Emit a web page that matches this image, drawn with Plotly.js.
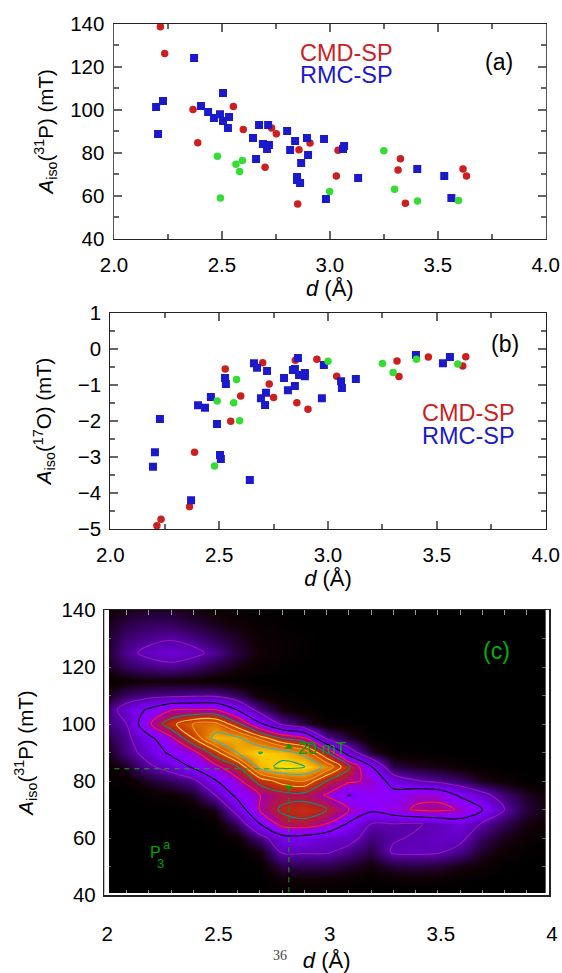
<!DOCTYPE html>
<html><head><meta charset="utf-8">
<script src="https://cdn.plot.ly/plotly-3.0.1.min.js"></script>
<style>html,body{margin:0;padding:0;background:#fff}</style></head>
<body><div id="plot" style="width:562px;height:973px"></div>
<script>
// Panel (a): A_iso(31P)
const aRedD=[2.215,2.235,2.366,2.388,2.553,2.599,2.73,2.752,2.857,2.908,2.70,2.851,3.038,3.03,3.327,3.316,3.35,3.617,3.633];
const aRedA=[138.6,126.2,100.1,84.7,101.5,90.9,91.5,88.9,81.5,84.6,73.3,56.3,81.2,69.3,77.3,72.0,56.6,72.5,69.3];
const aGreenD=[2.479,2.565,2.595,2.582,2.493,2.999,3.25,3.30,3.406,3.596];
const aGreenA=[78.4,74.7,76.5,71.3,59.0,62.1,81.0,63.1,57.6,57.9];
const aBlueD=[2.371,2.195,2.227,2.204,2.505,2.403,2.436,2.463,2.491,2.505,2.533,2.528,2.644,2.672,2.714,2.69,2.718,2.709,2.658,2.802,2.839,2.816,2.894,2.899,2.867,2.848,2.848,2.862,2.973,2.982,3.061,3.066,3.131,3.405,3.53,3.563];
const aBlueA=[124.1,101.3,104.1,88.8,107.8,101.8,99.0,96.2,98.0,94.8,96.7,91.5,86.9,92.9,92.9,84.1,83.7,81.8,77.2,90.2,85.5,81.3,86.9,79.0,75.3,68.8,67.4,66.0,86.4,58.6,81.8,83.2,68.3,72.5,69.3,59.0];
// Panel (b): A_iso(17O)
const bRedD=[2.214,2.233,2.364,2.387,2.528,2.553,2.599,2.70,2.73,2.75,2.85,2.857,2.908,2.949,3.04,3.317,3.326,3.461,3.619,3.633];
const bRedA=[-4.91,-4.73,-4.38,-2.87,-0.56,-2.01,-1.31,-0.39,-0.98,-1.35,-0.32,-1.50,-1.68,-0.29,-0.76,-0.34,-0.77,-0.23,-0.48,-0.22];
const bGreenD=[2.58,2.491,2.567,2.594,2.479,3.0,3.25,3.299,3.406,3.596];
const bGreenA=[-0.85,-1.45,-1.50,-2.00,-3.25,-0.35,-0.41,-0.66,-0.29,-0.42];
const bBlueD=[2.371,2.196,2.205,2.228,2.403,2.435,2.462,2.49,2.504,2.508,2.527,2.531,2.641,2.66,2.674,2.72,2.715,2.692,2.711,2.798,2.816,2.848,2.839,2.848,2.862,2.867,2.894,2.894,2.972,2.981,3.06,3.064,3.128,3.404,3.528,3.56];
const bBlueA=[-4.20,-3.27,-2.87,-1.95,-1.57,-1.64,-1.34,-2.09,-2.95,-3.06,-0.81,-0.98,-3.64,-0.40,-0.53,-0.62,-1.22,-1.37,-1.56,-0.81,-1.15,-1.03,-0.59,-0.56,-0.26,-0.73,-0.67,-0.76,-1.37,-0.45,-0.90,-1.09,-0.84,-0.17,-0.40,-0.23];
const mapD=[2.0,2.1,2.2,2.3,2.4,2.5,2.6,2.7,2.8,2.9,3.0,3.1,3.2,3.3,3.4,3.5,3.6,3.7,3.8,3.9,4.0];
const mapA=[140,135,130,125,120,115,110,105,100,95,90,85,80,75,70,65,60,55,50,45,40];
const mapColumns=[
[.03,.05,.06,.06,.05,.01,.05,.12,.13,.08,.04,.015,0,0,0,0,0,0,0,0,0],
[.06,.10,.14,.17,.12,.03,.13,.26,.2,.17,.15,.07,.02,0,0,0,0,0,0,0,0],
[.07,.12,.17,.23,.15,.04,.16,.37,.48,.31,.25,.18,.07,.02,0,0,0,0,0,0,0],
[.07,.12,.19,.26,.17,.04,.17,.49,.67,.47,.38,.25,.12,.03,0,0,0,0,0,0,0],
[.05,.09,.16,.23,.14,.03,.18,.5,.79,.7,.46,.37,.17,.07,.01,0,0,0,0,0,0],
[.03,.06,.11,.17,.09,.02,.18,.5,.81,.92,.66,.47,.34,.2,.06,.01,0,0,0,0,0],
[.02,.04,.07,.09,.05,.01,.12,.34,.63,.9,.89,.6,.47,.39,.26,.12,.03,0,0,0,0],
[.01,.02,.03,.04,.02,0,.03,.15,.37,.76,.975,.92,.64,.5,.51,.35,.15,.05,.01,0,0],
[0,.01,.02,.02,.01,0,.01,.05,.18,.6,.93,1.0,.74,.56,.62,.55,.3,.21,.1,.03,.01],
[0,0,.01,.01,0,0,0,.02,.09,.52,.84,.98,.78,.56,.65,.57,.3,.21,.1,.03,.01],
[0,0,0,0,0,0,0,0,.02,.18,.6,.85,.6,.49,.6,.5,.25,.21,.1,.03,.005],
[0,0,0,0,0,0,0,0,.01,.08,.27,.62,.52,.345,.5,.33,.24,.16,.07,.02,0],
[0,0,0,0,0,0,0,0,0,.01,.08,.36,.48,.42,.38,.2,.15,.1,.04,.01,0],
[0,0,0,0,0,0,0,0,0,0,.01,.1,.28,.41,.45,.2,.19,.215,.08,.02,0],
[0,0,0,0,0,0,0,0,0,0,.01,.07,.21,.47,.515,.19,.21,.22,.09,.02,0],
[0,0,0,0,0,0,0,0,0,0,0,.05,.17,.47,.53,.22,.23,.21,.08,.02,0],
[0,0,0,0,0,0,0,0,0,0,0,.03,.13,.33,.49,.27,.23,.16,.05,.01,0],
[0,0,0,0,0,0,0,0,0,0,0,.01,.06,.24,.36,.19,.12,.07,.03,0,0],
[0,0,0,0,0,0,0,0,0,0,0,0,.03,.14,.2,.11,.06,.03,.01,0,0],
[0,0,0,0,0,0,0,0,0,0,0,0,.01,.07,.09,.05,.03,.01,0,0,0],
[0,0,0,0,0,0,0,0,0,0,0,0,0,.03,.04,.02,.01,0,0,0,0]];
const contourLevels=[.2,.35,.5,.6,.7,.78,.88,.97];
const contourColors=['#9418b8','#000000','#ff2020','#108888','#ffd040','#f09a20','#40b0c0','#10a080'];
const markerD=[2.83,2.83];
const markerA=[92,77.8];
const guideLevelA=84.3;

const W=562,H=973;
const fx=p=>p/W, fy=p=>1-p/H;
const mapZ=mapA.map((_,r)=>mapColumns.map(c=>c[r]));

const RED='#cc1f1f',BLUE='#1a1acc',GREEN='#33dd33',DKGREEN='#00a000';
function scatterPanel(dR,aR,dB,aB,dG,aG,xa,ya){
  const t=(x,y,sym,col,size)=>({type:'scatter',mode:'markers',x,y,xaxis:xa,yaxis:ya,hoverinfo:'skip',
    marker:{symbol:sym,color:col,size,line:{width:0}},showlegend:false});
  return [t(dR,aR,'circle',RED,7.5),t(dB,aB,'square',BLUE,8),t(dG,aG,'circle',GREEN,7.5)];
}
const traces=[...scatterPanel(aRedD,aRedA,aBlueD,aBlueA,aGreenD,aGreenA,'x','y'),
  ...scatterPanel(bRedD,bRedA,bBlueD,bBlueA,bGreenD,bGreenA,'x2','y2')];
traces.push({type:'heatmap',x:mapD,y:mapA,z:mapZ,xaxis:'x3',yaxis:'y3',zsmooth:'best',showscale:false,hoverinfo:'skip',zmin:0,zmax:1,
  colorscale:[[0,'#000000'],[.04,'#100006'],[.1,'#2c0048'],[.2,'#5c00b0'],[.3,'#7a00f0'],[.4,'#8c00ff'],[.46,'#9400e0'],[.5,'#a000b0'],[.55,'#b01060'],[.6,'#b82020'],[.7,'#c84000'],[.78,'#d86000'],[.88,'#eca000'],[.95,'#f8c800'],[1,'#ffe400']]});
contourLevels.forEach((lv,i)=>traces.push({type:'contour',x:mapD,y:mapA,z:mapZ,xaxis:'x3',yaxis:'y3',showscale:false,hoverinfo:'skip',autocontour:false,
  contours:{start:lv,end:lv,size:.01,coloring:'none'},line:{color:contourColors[i],width:1.1,smoothing:1}}));
traces.push({type:'scatter',mode:'lines',x:[2,markerD[0]],y:[guideLevelA,guideLevelA],xaxis:'x3',yaxis:'y3',hoverinfo:'skip',line:{color:'#20a020',width:1.2,dash:'5px,5px'}});
traces.push({type:'scatter',mode:'lines',x:[markerD[0],markerD[0]],y:[markerA[1],40],xaxis:'x3',yaxis:'y3',hoverinfo:'skip',line:{color:'#1a8a1a',width:1.2,dash:'5px,5px'}});
traces.push({type:'scatter',mode:'markers',x:markerD,y:markerA,xaxis:'x3',yaxis:'y3',hoverinfo:'skip',marker:{symbol:['triangle-up','triangle-down'],color:DKGREEN,size:7}});

const FONT='Liberation Sans, Arial, sans-serif';
const yTitleP='<i>A</i><sub>iso</sub>(<sup>31</sup>P) (mT)';
const yTitleO='<i>A</i><sub>iso</sub>(<sup>17</sup>O) (mT)';
const xTitle='<i>d</i> (Å)';
const GRID='rgba(0,0,0,0)';
function ax(o){return Object.assign({showgrid:true,gridcolor:GRID,zeroline:false,showline:true,linecolor:'#222',linewidth:1,mirror:'ticks',ticks:'inside',tickcolor:'#666',tickwidth:2,ticklen:8,tickfont:{family:FONT,size:20.5,color:'#000'}},o);}
const minor=(d,len)=>({dtick:d,ticks:'inside',ticklen:len,tickcolor:'#666',tickwidth:2});
const titleFont=s=>({family:FONT,size:s,color:'#000'});

const ann=(x,y,text,color,size,extra)=>Object.assign({xref:'paper',yref:'paper',x:fx(x),y:fy(y),text,showarrow:false,xanchor:'center',yanchor:'middle',font:{size,color,family:FONT}},extra||{});
const annotations=[
 ann(346,53,'CMD-SP',RED,23.5),ann(346,75,'RMC-SP',BLUE,23.5),ann(499,62,'(a)','#000',23),
 ann(505,344,'(b)','#000',23),ann(468,413,'CMD-SP',RED,23.5),ann(468,436,'RMC-SP',BLUE,23.5),
 ann(496,651,'(c)','#00b000',23),ann(322,748,'20 mT',DKGREEN,17),
 ann(155,852,'P',DKGREEN,16),ann(160,863,'3',DKGREEN,13),ann(167,844,'a',DKGREEN,13),
 ann(280,955,'36','#444',14,{font:{size:14,color:'#444',family:'Liberation Serif, serif'}})
];
const shapes=[
 {type:'rect',xref:'x3',yref:'y3',x0:2,x1:2.021,y0:40,y1:140,fillcolor:'#fff',line:{width:0},layer:'above'},
 {type:'rect',xref:'x3',yref:'y3',x0:3.985,x1:4,y0:40,y1:140,fillcolor:'#fff',line:{width:0},layer:'above'},
 {type:'rect',xref:'x3',yref:'y3',x0:2,x1:4,y0:40,y1:40.7,fillcolor:'#fff',line:{width:0},layer:'above'}
];
const layout={width:W,height:H,margin:{l:0,r:0,t:0,b:0},showlegend:false,annotations,shapes,
 xaxis:ax({domain:[fx(114),fx(545.7)],anchor:'y',range:[2,4],dtick:.5,tickformat:'.1f',minor:minor(.25,5),ticklabelstandoff:7,title:{text:xTitle,font:titleFont(22),standoff:6}}),
 yaxis:ax({domain:[fy(239),fy(23.7)],anchor:'x',range:[40,140],dtick:20,minor:minor(10,5),linecolor:'#555',linewidth:1.5,ticklabelstandoff:4,title:{text:yTitleP,font:titleFont(20.5),standoff:11}}),
 xaxis2:ax({domain:[fx(110.3),fx(545.7)],anchor:'y2',range:[2,4],dtick:.5,tickformat:'.1f',minor:minor(.25,5),ticklabelstandoff:7,title:{text:xTitle,font:titleFont(22),standoff:6}}),
 yaxis2:ax({domain:[fy(529),fy(312.7)],anchor:'x2',range:[-5,1],dtick:1,minor:minor(.5,5),ticklabelstandoff:4,title:{text:yTitleO,font:titleFont(20.5),standoff:20}}),
 xaxis3:ax({domain:[fx(104.3),fx(549)],anchor:'y3',range:[2,4],dtick:.5,ticklen:5,tickcolor:'#999',tickwidth:1,minor:{dtick:.1,ticks:'inside',ticklen:5,tickcolor:'#999',tickwidth:1},ticklabelstandoff:20,ticklabelshift:3,linewidth:1.5,title:{text:xTitle,font:titleFont(22),standoff:8}}),
 yaxis3:ax({domain:[fy(895),fy(610)],anchor:'x3',range:[40,140],dtick:20,ticklen:7,tickcolor:'#666',tickwidth:1,minor:{dtick:10,ticks:'inside',ticklen:7,tickcolor:'#666',tickwidth:1},linewidth:1.5,ticklabelstandoff:3,title:{text:yTitleP,font:titleFont(20.5),standoff:22}})
};
Plotly.newPlot('plot',traces,layout,{staticPlot:true,displayModeBar:false});
</script></body></html>
